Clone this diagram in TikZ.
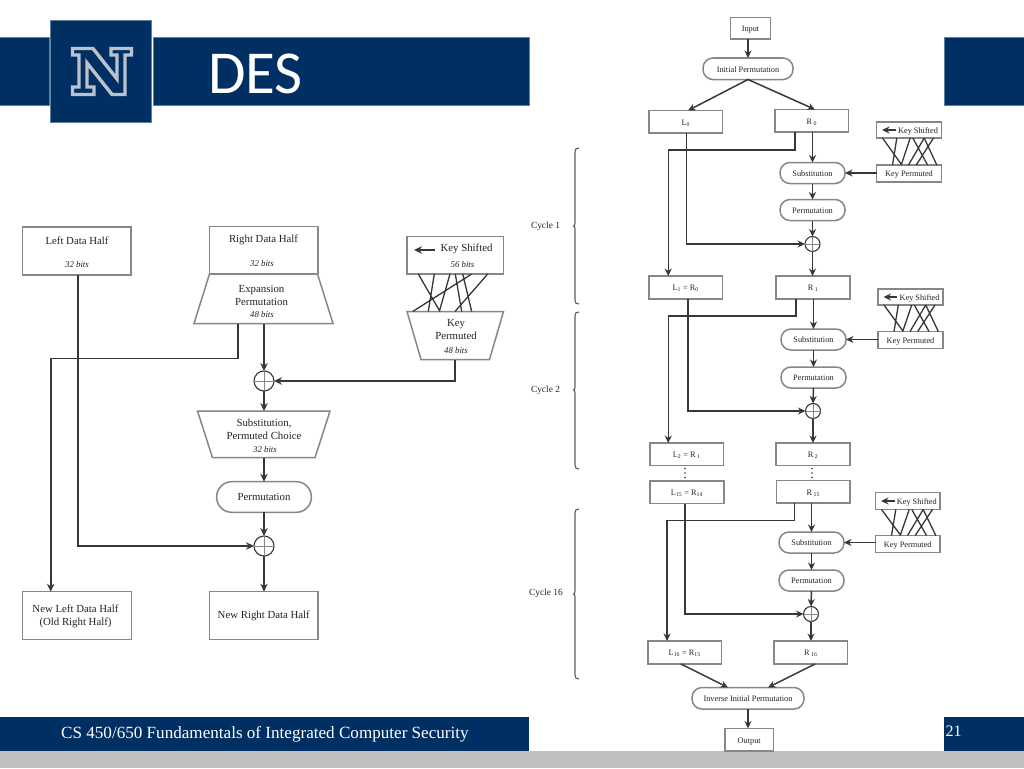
\documentclass[tikz,border=0pt]{standalone}
\usepackage{fontspec}
\setmainfont{Liberation Serif}
\newfontfamily\calib{Carlito}
\usetikzlibrary{arrows.meta,calc}
\definecolor{navy}{RGB}{0,47,99}
\definecolor{navyedge}{RGB}{96,128,160}
\definecolor{logogray}{RGB}{186,195,205}
\definecolor{footgray}{RGB}{191,191,191}
\definecolor{edgec}{RGB}{135,135,135}
\definecolor{linec}{RGB}{55,55,55}
\definecolor{textc}{RGB}{35,35,35}
\tikzset{
  x=1pt,y=-1pt,
  band/.style={fill=navy,draw=navyedge,line width=.6pt},
  edge/.style={draw=edgec,line width=1.5pt},
  hold/.style={rectangle,inner sep=0pt,outer sep=0pt},
  rbox/.style={hold,edge,fill=white,text=textc,align=center},
  bigpill/.style={rbox,rounded corners=15pt},
  smallpill/.style={rbox,rounded corners=10pt},
  xorb/.style={circle,inner sep=0pt,outer sep=0pt,draw=linec,line width=1.1pt,fill=white,minimum size=20pt},
  xors/.style={xorb,minimum size=15pt},
  conn/.style={draw=linec,line width=1.6pt,-{Stealth[length=8pt,width=7.5pt]}},
  plainline/.style={draw=linec,line width=1.3pt},
  big/.style={text=textc,align=center,inner sep=0pt,font=\fontsize{10.8}{13}\selectfont},
  bigf/.style={font=\fontsize{10.8}{13}\selectfont},
  bitsf/.style={text=textc,inner sep=0pt,font=\fontsize{8.8}{10}\selectfont\itshape},
  small/.style={font=\fontsize{8.3}{10}\selectfont,text height=6.6pt,text depth=0pt},
  cyc/.style={text=textc,inner sep=0pt,font=\fontsize{9.4}{11}\selectfont},
}
\newcommand{\bx}[7]{%
  \pgfmathsetmacro{\cxx}{(#3+#5)/2}\pgfmathsetmacro{\cyy}{(#4+#6)/2}%
  \pgfmathsetmacro{\ww}{#5-#3}\pgfmathsetmacro{\hh}{#6-#4}%
  \node[#1,minimum width=\ww pt,minimum height=\hh pt] (#2) at (\cxx,\cyy) {#7};}
\newcommand{\trapz}[7]{%
  \bx{hold}{#1}{#2}{#3}{#4}{#5}{}%
  \draw[edge,fill=white,line join=miter] ([xshift=#6pt]#1.north west) -- ([xshift=-#6pt]#1.north east)
     -- ([xshift=-#7pt]#1.south east) -- ([xshift=#7pt]#1.south west) -- cycle;}
\newcommand{\xorn}[4]{%
  \node[#1] (#2) at (#3,#4) {};
  \draw[draw=edgec,line width=.9pt] (#2.west) -- (#2.east) (#2.north) -- (#2.south);}
% key block: id, x1, x2, y1, y2 (shifted), y3, y4 (permuted)
\newcommand{\keyblock}[7]{%
  \bx{rbox,small}{ks#1}{#2}{#4}{#3}{#5}{\hspace*{18pt}Key Shifted}
  \bx{rbox,small}{kp#1}{#2}{#6}{#3}{#7}{Key Permuted}
  \coordinate (kstail#1) at ([xshift=19pt]ks#1.west);
  \coordinate (kstip#1) at ([xshift=5.5pt]ks#1.west);
  \draw[conn] (kstail#1) -- (kstip#1);
  \draw[plainline] ([xshift=6pt]ks#1.south west) -- ([xshift=25.3pt]kp#1.north west)
    ([xshift=20.3pt]ks#1.south west) -- ([xshift=16pt]kp#1.north west)
    ([xshift=33.7pt]ks#1.south west) -- ([xshift=24.7pt]kp#1.north west)
    ([xshift=36.3pt]ks#1.south west) -- ([xshift=51pt]kp#1.north west)
    ([xshift=47.7pt]ks#1.south west) -- ([xshift=60.3pt]kp#1.north west)
    ([xshift=57pt]ks#1.south west) -- ([xshift=39.7pt]kp#1.north west)
    ([xshift=47.7pt]ks#1.south west) -- ([xshift=32pt]kp#1.north west);}
% brace: y1, ymid, y2
\newcommand{\cbrace}[3]{%
  \draw[draw=linec!80,line width=1.1pt] (579,#1) .. controls (576,#1) and (575,#1+1) .. (575,#1+4)
    -- (575,#2-3) .. controls (575,#2-1) and (574.5,#2) .. (573.5,#2)
    .. controls (574.5,#2) and (575,#2+1) .. (575,#2+3)
    -- (575,#3-4) .. controls (575,#3-1) and (576,#3) .. (579,#3);}
\begin{document}
\begin{tikzpicture}
\useasboundingbox (0,0) rectangle (1024,768);
\fill[white] (0,0) rectangle (1024,768);
% slide chrome
\fill[footgray] (0,751) rectangle (1024,768);
\path[band] (-2,37.5) rectangle (49,105.5);
\path[band] (153,37.5) rectangle (529,105.5);
\path[band] (944,37.5) rectangle (1026,105.5);
\fill[navy] (0,717) rectangle (529,751);
\fill[navy] (944,717) rectangle (1024,751);
\path[band] (50.5,20.5) rectangle (151.5,122.5);
\draw[draw=logogray,line width=3.4pt,line join=miter,fill=navy]
  (72.5,48.5) -- (93,48.5) -- (117,79) -- (117,55) -- (111,55) -- (111,48.5) -- (131.5,48.5)
  -- (131.5,55) -- (125,55) -- (125,94.5) -- (112,94.5) -- (87,63) -- (87,87) -- (94,87)
  -- (94,94.5) -- (72.5,94.5) -- (72.5,87) -- (79,87) -- (79,55) -- (72.5,55) -- cycle;
\node[anchor=base,inner sep=0pt,text=white,font=\calib\fontsize{61}{62}\selectfont] (title) at (255.5,93) {DES};
\node[anchor=base west,inner sep=0pt,text=white,font=\fontsize{17.1}{19}\selectfont] (foot) at (61,738.5) {CS 450/650 Fundamentals of Integrated Computer Security};
\node[anchor=base west,inner sep=0pt,text=white,font=\fontsize{16}{18}\selectfont] (pageno) at (945.5,736.5) {21};

% ---------- left diagram
\bx{rbox}{ldh}{22.5}{227}{131}{275}{}
\node[big] (ldht) at (77,240.5) {Left Data Half};
\node[bitsf] (ldhb) at (77,264.5) {32 bits};
\bx{rbox}{rdh}{209.5}{226.5}{318}{273.5}{}
\node[big] (rdht) at (263.5,239.5) {Right Data Half};
\node[bitsf] (rdhb) at (262,263) {32 bits};
\trapz{exp}{194}{274}{333}{323.5}{15.5}{0}
\node[big] (expt) at (261.5,295) {Expansion\\Permutation};
\node[bitsf] (expb) at (262,314) {48 bits};
\bx{rbox}{ks}{407}{236.5}{503.5}{274}{}
\node[big] (kst) at (466.5,249) {Key Shifted};
\node[bitsf] (ksb) at (462.5,264) {56 bits};
\coordinate (kstail) at ([xshift=28pt,yshift=5.25pt]ks.west);
\coordinate (kstip) at ([xshift=7pt,yshift=5.25pt]ks.west);
\draw[conn] (kstail) -- (kstip);
\trapz{kp}{407}{311.5}{503.5}{359.5}{0}{14}
\node[big] (kpt) at (456,329.5) {Key\\Permuted};
\node[bitsf] (kpb) at (456,350) {48 bits};
\draw[plainline] ([xshift=11.3pt]ks.south west) -- ([xshift=33pt]kp.north west)
  ([xshift=27.3pt]ks.south west) -- ([xshift=21.3pt]kp.north west)
  ([xshift=43pt]ks.south west) -- ([xshift=32.3pt]kp.north west)
  ([xshift=48.3pt]ks.south west) -- ([xshift=54.7pt]kp.north west)
  ([xshift=55.7pt]ks.south west) -- ([xshift=64.7pt]kp.north west)
  ([xshift=64.7pt]ks.south west) -- ([xshift=5.7pt]kp.north west)
  ([xshift=80.7pt]ks.south west) -- ([xshift=48pt]kp.north west);
\xorn{xorb}{xa}{264}{381}
\trapz{subc}{197.5}{411}{330}{457.7}{0}{15}
\node[big] (subct) at (264,429.5) {Substitution,\\Permuted Choice};
\node[bitsf] (subcb) at (265,449) {32 bits};
\bx{bigpill,bigf}{perm}{216.7}{481.7}{311.3}{512.3}{Permutation}
\xorn{xorb}{xb}{264}{546}
\bx{rbox}{nld}{22.5}{591.7}{131.5}{639.5}{}
\node[big] (nldt) at (75.5,616) {New Left Data Half\\(Old Right Half)};
\bx{rbox,bigf}{nrd}{209.5}{591.7}{318}{639.5}{New Right Data Half}
\draw[conn] (ldh.south -| 77.7,0) |- (xb.west);
\draw[conn] ([xshift=-25.5pt]exp.south) -- ++(0,34.8) -| (nld.north -| 50.7,0);
\draw[conn] (xa.north |- exp.south) -- (xa.north);
\draw[conn] ([xshift=-.5pt]kp.south) |- (xa.east);
\draw[conn] (xa.south) -- (xa.south |- subc.north);
\draw[conn] (xa.south |- subc.south) -- (xa.south |- perm.north);
\draw[conn] (xb.north |- perm.south) -- (xb.north);
\draw[conn] (xb.south) -- (xb.south |- nrd.north);

% ---------- right diagram: head
\tikzset{conn/.style={draw=linec,line width=1.5pt,-{Stealth[length=7.5pt,width=7pt]}}}
\bx{rbox,small}{input}{730.3}{17.5}{770.7}{39}{Input}
\bx{smallpill,small}{ip}{703}{58}{793}{79.5}{Initial Permutation}
\draw[conn] (input.south -| ip.north) -- (ip.north);
\bx{rbox,small}{lz}{649}{110.5}{722.5}{133}{L\textsubscript{0}}
\bx{rbox,small}{rz}{775}{109.5}{848.5}{132}{R\textsubscript{ 0}}
% cycle 1
\keyblock{a}{876.5}{941.5}{122}{138}{165}{182}
\bx{smallpill,small}{sa}{780}{162.5}{845}{183.5}{Substitution}
\bx{smallpill,small}{pa}{780}{199.5}{845}{220.5}{Permutation}
\xorn{xors}{xa1}{812.5}{244}
\bx{rbox,small}{lo}{649}{276}{722.5}{299}{L\textsubscript{1} = R\textsubscript{0}}
\bx{rbox,small}{ro}{776}{276}{850}{299}{R\textsubscript{ 1}}
% cycle 2
\keyblock{b}{878}{943}{289}{305}{331.5}{348.5}
\bx{smallpill,small}{sb}{781}{329}{846}{350}{Substitution}
\bx{smallpill,small}{pb}{781}{367}{846}{388}{Permutation}
\xorn{xors}{xb1}{813}{411}
\bx{rbox,small}{lt}{650}{443}{723.5}{465.5}{L\textsubscript{2} = R\textsubscript{ 1}}
\bx{rbox,small}{rt}{776}{443}{850}{465.5}{R\textsubscript{ 2}}
% dots
\foreach \dx in {685,812} \foreach \dy in {468.5,473,477.5} \fill[linec] (\dx,\dy) circle (.8);
% cycle 16
\bx{rbox,small}{lf}{650}{481}{724}{503.5}{L\textsubscript{15} = R\textsubscript{14}}
\bx{rbox,small}{rf}{776.5}{480.5}{850}{503}{R\textsubscript{ 15}}
\keyblock{c}{875.5}{940}{492.5}{509.5}{535.5}{552.5}
\bx{smallpill,small}{sc}{779}{532}{844}{553}{Substitution}
\bx{smallpill,small}{pc}{779}{570}{844}{591}{Permutation}
\xorn{xors}{xc1}{811}{614}
\bx{rbox,small}{ls}{648}{641}{721.5}{664}{L\textsubscript{16} = R\textsubscript{15}}
\bx{rbox,small}{rs}{774}{641}{847.5}{664}{R\textsubscript{ 16}}
\bx{smallpill,small}{iip}{692}{687.5}{804}{709}{Inverse Initial Permutation}
\bx{rbox,small}{output}{725}{728.5}{773.5}{751}{Output}
% connectors
\draw[conn] (ip.south) -- ([xshift=-34.5pt]lz.north east);
\draw[conn] (ip.south) -- ([xshift=3.25pt]rz.north);
% cycle 1
\draw[conn] (kpa.west |- sa.east) -- (sa.east);
\draw[conn] (sa.north |- rz.south) -- (sa.north);
\draw[conn] (sa.south) -- (pa.north);
\draw[conn] (pa.south) -- (xa1.north);
\draw[conn] (xa1.south) -- (xa1.south |- ro.north);
\draw[conn] ([xshift=-16.7pt]rz.south) -- ++(0,18) -| ([xshift=-17.5pt]lo.north);
\draw[conn] ([xshift=.5pt]lz.south) |- (xa1.west);
% cycle 2
\draw[conn] (kpb.west |- sb.east) -- (sb.east);
\draw[conn] (sb.north |- ro.south) -- (sb.north);
\draw[conn] (sb.south) -- (pb.north);
\draw[conn] (pb.south) -- (xb1.north);
\draw[conn] (xb1.south) -- (xb1.south |- rt.north);
\draw[conn] ([xshift=-17pt]ro.south) -- ++(0,17) -| ([xshift=-18.5pt]lt.north);
\draw[conn] ([xshift=2pt]lo.south) |- (xb1.west);
% cycle 16
\draw[conn] (kpc.west |- sc.east) -- (sc.east);
\draw[conn] (sc.north |- rf.south) -- (sc.north);
\draw[conn] (sc.south) -- (pc.north);
\draw[conn] (pc.south) -- (xc1.north);
\draw[conn] (xc1.south) -- (xc1.south |- rs.north);
\draw[conn] ([xshift=-19pt]rf.south) -- ++(0,17.5) -| ([xshift=-17.7pt]ls.north);
\draw[conn] ([xshift=-2pt]lf.south) |- (xc1.west);
\draw[conn] ([xshift=-3.75pt]ls.south) -- ([xshift=-20pt]iip.north);
\draw[conn] ([xshift=4.25pt]rs.south) -- ([xshift=20pt]iip.north);
\draw[conn] (iip.south) -- (iip.south |- output.north);
% braces
\cbrace{148}{226}{304}
\cbrace{312}{390}{469}
\cbrace{509}{594}{679}
\node[cyc] (ca) at (545.5,226.5) {Cycle 1};
\node[cyc] (cb) at (545.5,390) {Cycle 2};
\node[cyc] (cc) at (546,593.5) {Cycle 16};
\end{tikzpicture}
\end{document}
